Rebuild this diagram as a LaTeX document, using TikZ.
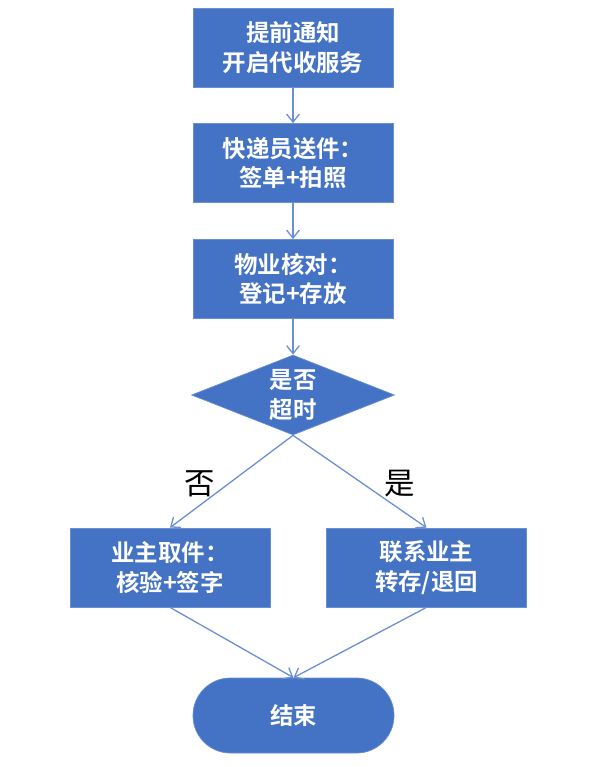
\documentclass[tikz,border=0pt]{standalone}
\usepackage{fontspec}
\usepackage{xcolor}
\usetikzlibrary{arrows.meta, shapes.geometric}
\newfontfamily\cjk{Noto Sans CJK SC}
\newfontfamily\cjkbold{Noto Sans CJK SC Bold}
\definecolor{boxblue}{HTML}{4472C4}
\definecolor{edgeblue}{HTML}{6A8FD3}

\begin{document}
\begin{tikzpicture}[x=0.03cm, y=-0.03cm,
  stepbox/.style = {draw=edgeblue, line width=0.6pt, fill=boxblue, text=white,
    minimum width=6cm, minimum height=2.37cm, align=center, inner sep=0pt,
    font=\cjkbold\fontsize{20}{25.5}\selectfont},
  decide/.style = {stepbox, diamond, aspect=2.54, minimum width=6.09cm, minimum height=2.4cm},
  endbox/.style = {stepbox, rounded corners=1.12cm, minimum width=6.03cm, minimum height=2.25cm},
  flow/.style = {edgeblue, line width=1.1pt, -{Straight Barb[length=2.4mm, width=3.8mm]}},
  tag/.style = {font=\cjk\fontsize{26}{30}\selectfont}]
\useasboundingbox (0,0) rectangle (599,767);
\pgfmathsetmacro{\midx}{293} %main column

\node[stepbox] (notice) at (\midx,47.5) {提前通知\\开启代收服务};
\node[stepbox] (courier) at (\midx,163) {快递员送件：\\签单+拍照};
\node[stepbox] (check) at (\midx,279) {物业核对：\\登记+存放};
\node[decide] (timeout) at (\midx,395) {是否\\超时};
\node[stepbox] (pickup) at (170,567.5) {业主取件：\\核验+签字};
\node[stepbox] (contact) at (426.5,567.5) {联系业主\\转存/退回};
\node[endbox] (finish) at (293.5,715.5) {结束};

\draw[flow] (notice) -- (courier);
\draw[flow] (courier) -- (check);
\draw[flow] (check) -- (timeout);
\draw[flow] (timeout.south) -- (pickup.north);
\draw[flow] (timeout.south) -- (contact.north);
\draw[flow] (pickup.south) -- (finish.north);
\draw[flow] (contact.south) -- (finish.north);

\node[tag] (no) at (200,484) {否};
\node[tag] (yes) at (400,484) {是};
\end{tikzpicture}
\end{document}
